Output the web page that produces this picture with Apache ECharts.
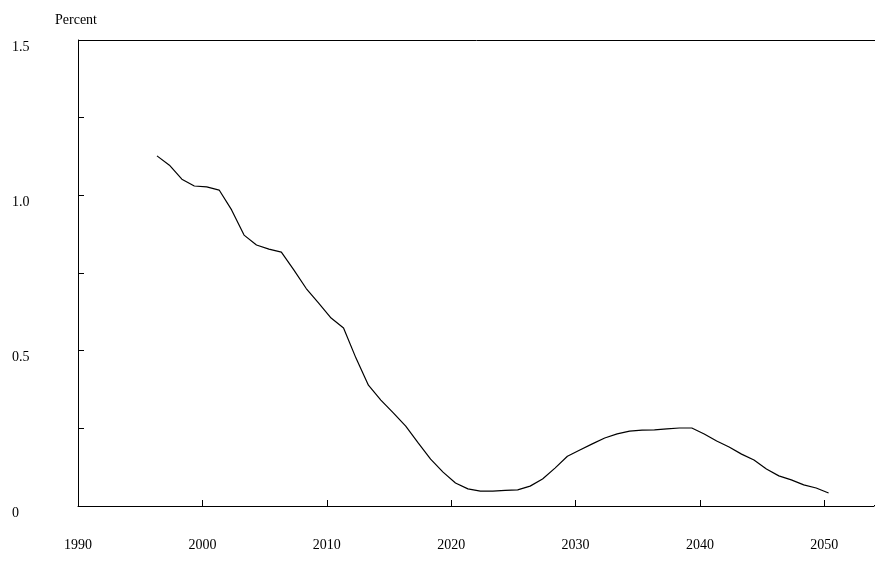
<!DOCTYPE html>
<html><head><meta charset="utf-8">
<script src="https://cdn.jsdelivr.net/npm/echarts@6/dist/echarts.min.js"></script>
<style>html,body{margin:0;padding:0;background:#fff}#c{width:877px;height:561px}</style>
</head><body><div id="c"></div>
<script>
const years = [];
for (let y = 1996; y <= 2050; y++) years.push(y);
const values = [1.127,1.097,1.052,1.03,1.027,1.017,0.953,0.872,0.84,0.827,0.817,0.76,0.70,0.653,0.605,0.573,0.476,0.389,0.341,0.30,0.257,0.203,0.151,0.109,0.074,0.055,0.048,0.048,0.05,0.052,0.064,0.087,0.122,0.16,0.18,0.20,0.219,0.232,0.241,0.244,0.245,0.248,0.251,0.251,0.232,0.209,0.19,0.167,0.148,0.119,0.097,0.084,0.068,0.058,0.042];
const midYear = 0.35;
const font = 'Liberation Serif';
const chart = echarts.init(document.getElementById('c'));
chart.setOption({
  animation:false,
  grid:{left:78,right:2,top:40,bottom:55},
  title:{text:'Percent',left:50,top:8,textStyle:{fontFamily:font,fontSize:14,fontWeight:'normal',color:'#000'}},
  xAxis:{type:'value',min:1990,max:2054,interval:10,
    axisLine:{lineStyle:{color:'#000'}},
    axisTick:{inside:true,length:6,lineStyle:{color:'#000'}},
    splitLine:{show:false},
    axisLabel:{margin:32,fontFamily:font,fontSize:14,color:'#000',
      formatter:v=>v>2050?'':String(v)}},
  yAxis:[{type:'value',min:0,max:1.5,interval:0.25,
    axisLine:{show:true,lineStyle:{color:'#000'}},axisTick:{inside:true,length:6,lineStyle:{color:'#000'}},
    splitLine:{show:false},
    axisLabel:{margin:66,align:'left',verticalAlign:'top',fontFamily:font,fontSize:14,color:'#000',
      formatter:v=>(Math.abs(v*2-Math.round(v*2))<1e-9)?(v===0?'0':v.toFixed(1)):''}}],
  graphic:[{type:'line',shape:{x1:78,y1:40.5,x2:875,y2:40.5},style:{stroke:'#000',lineWidth:1}},
           {type:'rect',z:100,shape:{x:872,y:494,width:5,height:11},style:{fill:'#fff'}}],
  series:[{type:'line',data:years.map((y,i)=>[y+midYear,values[i]]),showSymbol:false,smooth:false,
    lineStyle:{color:'#000',width:1.2}}]
});
</script></body></html>
